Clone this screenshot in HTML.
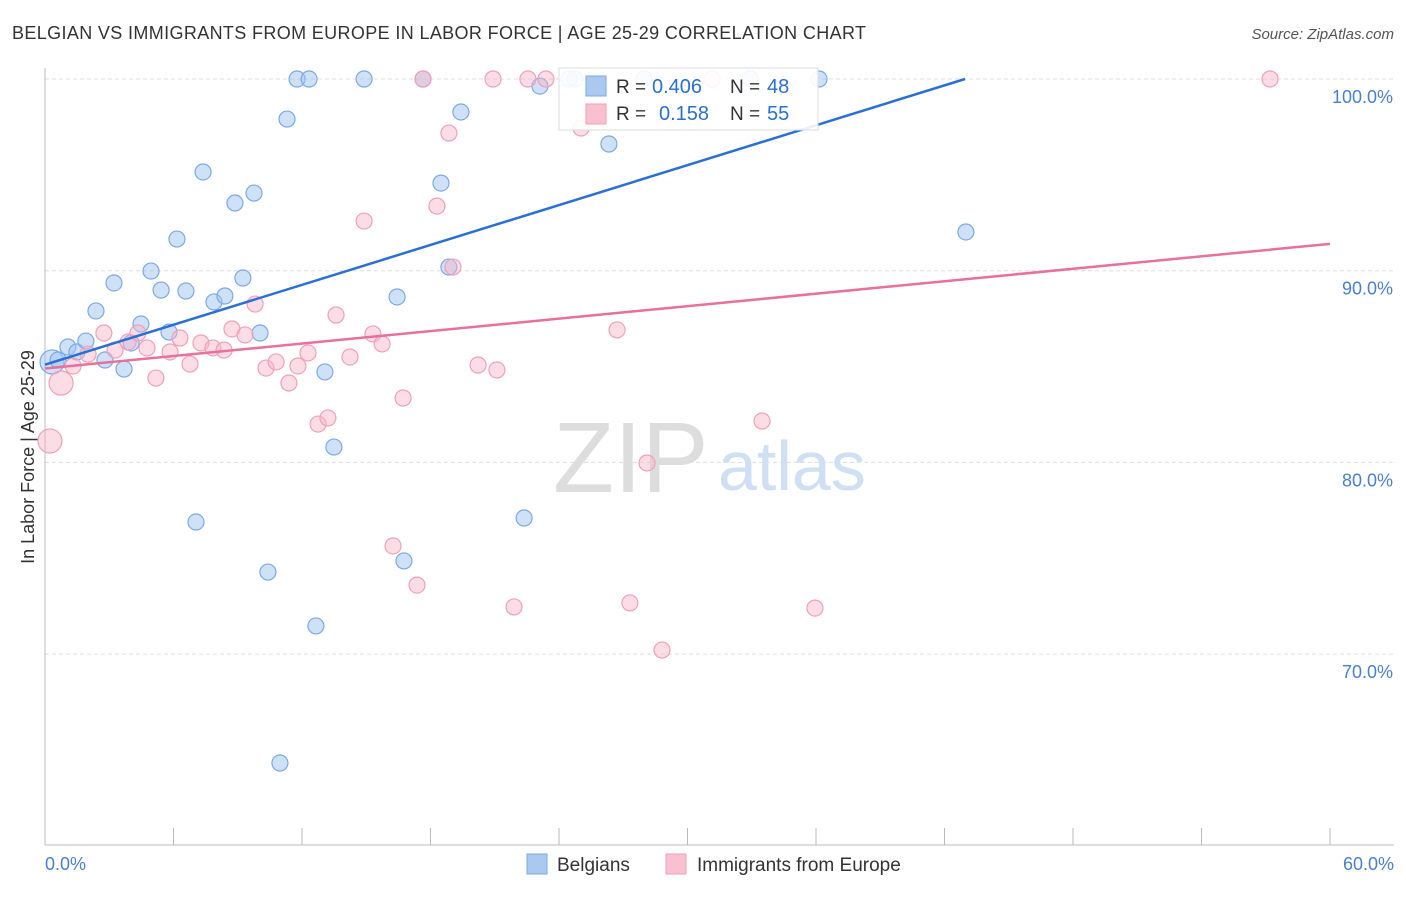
<!DOCTYPE html>
<html><head><meta charset="utf-8"><style>
body{margin:0;background:#fff;font-family:"Liberation Sans",sans-serif}
svg text{font-family:"Liberation Sans",sans-serif}
</style></head><body>
<svg width="1406" height="892" viewBox="0 0 1406 892">
<text x="12" y="39" font-size="18" fill="#333" textLength="854">BELGIAN VS IMMIGRANTS FROM EUROPE IN LABOR FORCE | AGE 25-29 CORRELATION CHART</text>
<text x="1394" y="39" font-size="15" fill="#555" text-anchor="end" font-style="italic">Source: ZipAtlas.com</text>
<g id="grid"></g>
<g id="ticks"></g>
<line x1="45" y1="68" x2="45" y2="845" stroke="#bbb"/>
<line x1="45" y1="845" x2="1394" y2="845" stroke="#bbb"/>
<text x="553" y="492" font-size="100" fill="#ddd" font-family="Liberation Serif">ZIP</text>
<text x="718" y="490" font-size="70" fill="#cfe0f5">atlas</text>
<text transform="translate(34,457) rotate(-90)" font-size="18" fill="#333" text-anchor="middle">In Labor Force | Age 25-29</text>
<text x="45" y="870" font-size="18" fill="#4a7fd0">0.0%</text>
<text x="1394" y="870" font-size="18" fill="#4a7fd0" text-anchor="end">60.0%</text>
<g id="pts"></g>
<g id="lines"></g>
<g>
<rect x="559" y="68" width="259" height="62" fill="#fff" fill-opacity="0.9" stroke="#ddd"/>
<rect x="586" y="76" width="20" height="20" fill="#aac8f0" stroke="#7aaae6"/>
<text x="616" y="93" font-size="19" fill="#333">R =</text>
<text x="652" y="93" font-size="20" fill="#2a6fd6">0.406</text>
<text x="730" y="93" font-size="19" fill="#333">N =</text>
<text x="767" y="93" font-size="20" fill="#2a6fd6">48</text>
<rect x="586" y="104" width="20" height="20" fill="#f8c0d0" stroke="#f0a0b8"/>
<text x="616" y="120" font-size="19" fill="#333">R =</text>
<text x="659" y="120" font-size="20" fill="#2a6fd6">0.158</text>
<text x="730" y="120" font-size="19" fill="#333">N =</text>
<text x="767" y="120" font-size="20" fill="#2a6fd6">55</text>
</g>
<g>
<rect x="527" y="854" width="20" height="20" fill="#aac8f0" stroke="#7aaae6"/>
<text x="557" y="871" font-size="19" fill="#333">Belgians</text>
<rect x="666" y="854" width="20" height="20" fill="#f8c0d0" stroke="#f0a0b8"/>
<text x="697" y="871" font-size="19" fill="#333">Immigrants from Europe</text>
</g>
</svg>
<script>
const yTicks=[100,90,80,70];
const yTickLabels=["100.0%","90.0%","80.0%","70.0%"];
const xTicks=[0,6,12,18,24,30,36,42,48,54,60];
const blueX=[0.33,0.61,1.07,1.49,1.91,2.38,2.80,3.22,3.69,4.02,4.48,4.95,5.42,5.79,6.16,6.58,7.05,7.38,7.89,8.40,8.87,9.24,9.76,10.04,10.41,10.97,11.30,11.77,12.33,12.65,13.07,13.49,14.9,16.44,16.76,17.65,18.49,18.86,19.42,22.37,23.11,24.47,24.75,26.33,27.97,32.92,36.14,43.0];
const blueY=[85.24,85.34,86.02,85.76,86.33,87.9,85.34,89.36,84.87,86.23,87.22,89.98,88.99,86.8,91.65,88.94,76.89,95.15,88.37,88.68,93.53,89.62,94.05,86.75,74.28,64.32,97.91,100,100,71.47,84.72,80.8,100,88.63,74.86,100,94.57,90.19,98.28,77.1,99.63,100,100,96.61,100,100,100,92.02];
const pinkX=[0.23,0.75,1.31,2.01,2.75,3.27,3.88,4.34,4.76,5.18,5.84,6.30,6.77,7.28,7.84,8.36,8.73,9.34,9.81,10.32,10.79,11.39,11.81,12.28,12.75,13.21,13.59,14.24,14.9,15.31,15.74,16.25,16.72,17.37,17.65,18.3,18.86,19.05,20.22,20.92,21.1,21.9,22.55,23.39,25.03,26.71,27.31,28.11,28.81,31.15,33.48,35.95,57.2];
const pinkY=[81.12,84.14,85.03,85.65,86.75,85.86,86.28,86.75,85.97,84.4,85.76,86.49,85.13,86.23,85.97,85.86,86.96,86.65,88.26,84.92,85.24,84.14,85.03,85.71,82.0,82.32,87.69,85.5,92.59,86.7,86.18,75.64,83.36,73.6,100,93.37,97.18,90.19,85.08,100,84.82,72.46,100,100,97.44,86.91,72.67,79.97,70.21,100,82.16,72.4,100];
const blueLine=[[0,85.1],[42.96,100]];
const pinkLine=[[0,84.9],[60,91.4]];
const NS='http://www.w3.org/2000/svg';
const sx=v=>45+v*1285/60;
const sy=v=>79+(100-v)*19.17;
function mk(t,a,p){const e=document.createElementNS(NS,t);for(const k in a)e.setAttribute(k,a[k]);p.appendChild(e);return e;}
const grid=document.getElementById('grid');
yTicks.forEach((t,i)=>{
 const l=mk('line',{x1:45,x2:1394,y1:sy(t),y2:sy(t),stroke:'#ddd','stroke-dasharray':'4,3'},grid);
 
 
 const tx=mk('text',{x:1393,y:sy(t)+24,'font-size':18,fill:'#4a7fd0','text-anchor':'end'},grid);
 tx.textContent=yTickLabels[i];
 
 
});
const ticks=document.getElementById('ticks');
xTicks.forEach(t=>{
 const l=mk('line',{x1:sx(t),x2:sx(t),y1:828,y2:845,stroke:'#bbb'},ticks);
 
 
});
const pts=document.getElementById('pts');
function dots(X,Y,fill,stroke,name){
 X.forEach((x,i)=>{
  const big=(name==='immigrant-point'&&i<2)||(name==='belgian-point'&&i===0);
  const c=mk('circle',{cx:sx(x),cy:sy(Y[i]),r:big?12:8,fill:fill,stroke:stroke,'stroke-width':1.2},pts);
  
  
 });
}
dots(blueX,blueY,'rgba(160,196,240,0.5)','#7aaae6','belgian-point');
dots(pinkX,pinkY,'rgba(248,180,200,0.45)','#f0a0b8','immigrant-point');
const lines=document.getElementById('lines');
const bl=mk('line',{x1:sx(blueLine[0][0]),y1:sy(blueLine[0][1]),x2:sx(blueLine[1][0]),y2:sy(blueLine[1][1]),stroke:'#2a6fd6','stroke-width':2.5},lines);


const pl=mk('line',{x1:sx(pinkLine[0][0]),y1:sy(pinkLine[0][1]),x2:sx(pinkLine[1][0]),y2:sy(pinkLine[1][1]),stroke:'#e8709a','stroke-width':2.5},lines);


</script>
</body></html>
